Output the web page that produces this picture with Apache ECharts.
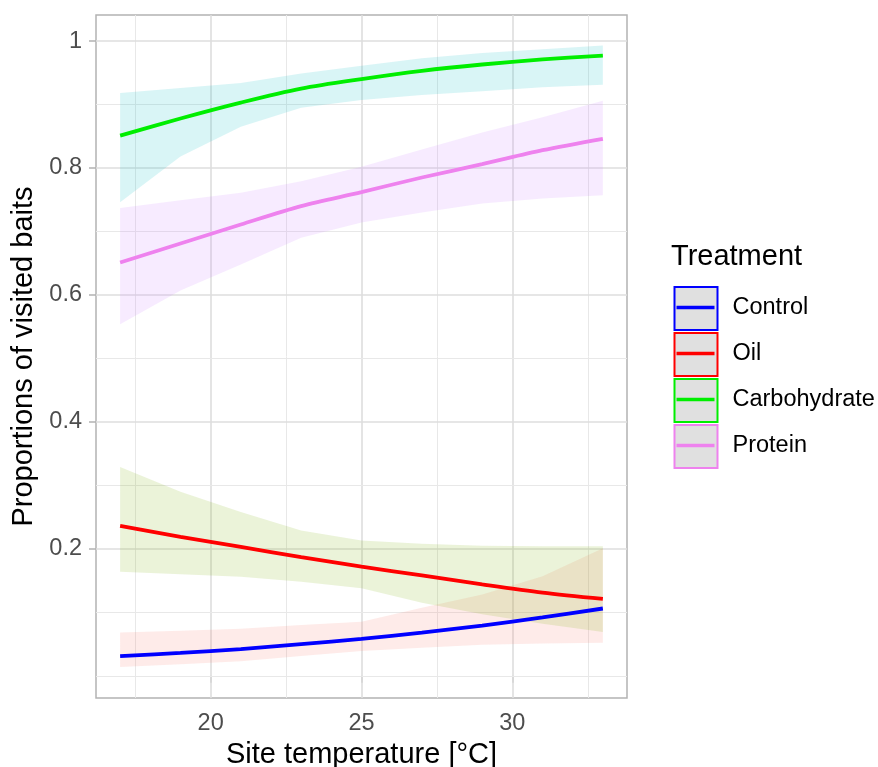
<!DOCTYPE html>
<html>
<head>
    <meta charset="utf-8">
    <style>
        html, body {
            height: 100%;
            margin: 0;
            padding: 0;
            background: #ffffff;
        }

        .container {
            width: 878px;
            height: 767px;
        }
    </style>
</head>
<body>
<div id="main" class="container"></div>

<script src="https://cdn.jsdelivr.net/npm/echarts@6/dist/echarts.min.js"></script>
<script type="text/javascript">
// site temperatures at which the fits were read
var temps = [17, 19, 21, 23, 25, 27, 29, 31, 33];

var treatments = ['Control', 'Oil', 'Carbohydrate', 'Protein'];

// fitted proportions
var controlFit = [0.031, 0.036, 0.042, 0.050, 0.058, 0.068, 0.079, 0.092, 0.106];
var oilFit     = [0.236, 0.219, 0.203, 0.187, 0.172, 0.158, 0.144, 0.131, 0.121];
var carbFit    = [0.851, 0.878, 0.903, 0.925, 0.940, 0.953, 0.963, 0.971, 0.977];
var proteinFit = [0.651, 0.681, 0.711, 0.740, 0.762, 0.785, 0.806, 0.828, 0.846];

// confidence ribbons
var controlLow  = [0.014, 0.018, 0.023, 0.031, 0.039, 0.044, 0.049, 0.051, 0.052];
var controlHigh = [0.068, 0.071, 0.074, 0.080, 0.085, 0.107, 0.128, 0.157, 0.201];
var oilLow      = [0.164, 0.160, 0.156, 0.148, 0.138, 0.115, 0.097, 0.082, 0.069];
var oilHigh     = [0.329, 0.290, 0.258, 0.229, 0.213, 0.208, 0.205, 0.204, 0.204];
var carbLow     = [0.746, 0.818, 0.865, 0.895, 0.907, 0.915, 0.921, 0.927, 0.931];
var carbHigh    = [0.918, 0.926, 0.934, 0.949, 0.961, 0.973, 0.981, 0.987, 0.993];
var proteinLow  = [0.554, 0.607, 0.648, 0.690, 0.714, 0.730, 0.744, 0.752, 0.757];
var proteinHigh = [0.737, 0.749, 0.761, 0.779, 0.802, 0.829, 0.856, 0.880, 0.906];

// axis breaks
var xMajor = [20, 25, 30];
var xMinor = [17.5, 22.5, 27.5, 32.5];
var yMajor = [0.2, 0.4, 0.6, 0.8, 1];
var yMinor = [0, 0.1, 0.3, 0.5, 0.7, 0.9];

var fits = [controlFit, oilFit, carbFit, proteinFit];
var lows = [controlLow, oilLow, carbLow, proteinLow];
var highs = [controlHigh, oilHigh, carbHigh, proteinHigh];

var lineColors = ['#0000ff', '#ff0000', '#00ee00', '#ee82ee'];
var ribbonColors = ['#F8766D', '#7CAE00', '#00BFC4', '#C77CFF'];

var fontName = 'Liberation Sans';

// horizontal bar centred in a 38x45 key, the corner specks only fix the box
var keyLine = 'path://M0,0h0.01v0.01h-0.01z M0,20.75h38v3.5h-38z M37.99,44.99h0.01v0.01h-0.01z';

function createChart() {
    var myChart = echarts.init(document.getElementById('main'));

    var gridLines = [];
    xMajor.forEach(function (v) {
        gridLines.push({xAxis: v, lineStyle: {color: '#dedede', width: 1.6, type: 'solid'}});
    });
    xMinor.forEach(function (v) {
        gridLines.push({xAxis: v, lineStyle: {color: '#e8e8e8', width: 1, type: 'solid'}});
    });
    yMajor.forEach(function (v) {
        gridLines.push({yAxis: v, lineStyle: {color: '#dedede', width: 1.6, type: 'solid'}});
    });
    yMinor.forEach(function (v) {
        gridLines.push({yAxis: v, lineStyle: {color: '#e8e8e8', width: 1, type: 'solid'}});
    });

    var series = [];
    treatments.forEach(function (name, k) {
        series.push({
            name: name + ' band',
            type: 'custom',
            silent: true,
            z: 2,
            data: temps.map(function (x, i) { return [x, lows[k][i], highs[k][i]]; }),
            encode: {x: 0, y: [1, 2]},
            renderItem: function (params, api) {
                if (params.dataIndex !== 0) {
                    return null;
                }
                var pts = [];
                for (var i = 0; i < temps.length; i++) {
                    pts.push(api.coord([temps[i], highs[k][i]]));
                }
                for (var j = temps.length - 1; j >= 0; j--) {
                    pts.push(api.coord([temps[j], lows[k][j]]));
                }
                return {
                    type: 'polygon',
                    shape: {points: pts},
                    style: {fill: ribbonColors[k], opacity: 0.15}
                };
            }
        });
    });
    treatments.forEach(function (name, k) {
        var s = {
            name: name,
            type: 'line',
            data: temps.map(function (x, i) { return [x, fits[k][i]]; }),
            symbol: 'none',
            smooth: 0.3,
            lineStyle: {color: lineColors[k], width: 3.8},
            itemStyle: {color: lineColors[k]},
            z: 3
        };
        if (k === 0) {
            s.markLine = {
                silent: true,
                symbol: 'none',
                label: {show: false},
                animation: false,
                z: 1,
                data: gridLines
            };
        }
        series.push(s);
    });

    // legend key boxes
    var keyBoxes = treatments.map(function (name, k) {
        return {
            type: 'rect',
            left: 673.5,
            top: 286 + 46 * k,
            shape: {width: 43, height: 43},
            style: {fill: '#e0e0e0', stroke: lineColors[k], lineWidth: 2},
            z: 1
        };
    });

    var option = {
        animation: false,
        textStyle: {fontFamily: fontName},
        title: {
            text: 'Treatment',
            left: 671,
            top: 242,
            padding: 0,
            textStyle: {fontFamily: fontName, fontSize: 29, fontWeight: 'normal', color: '#000000'}
        },
        legend: {
            data: treatments.map(function (name) { return {name: name, icon: keyLine}; }),
            orient: 'vertical',
            left: 676.5,
            top: 285,
            padding: 0,
            itemWidth: 38,
            itemHeight: 45,
            itemGap: 1,
            selectedMode: false,
            itemStyle: {borderWidth: 0},
            lineStyle: {width: 0},
            textStyle: {fontFamily: fontName, fontSize: 23.5, color: '#000000', padding: [0, 0, 0, 13]}
        },
        graphic: keyBoxes,
        grid: {
            left: 96,
            right: 251,
            top: 15,
            bottom: 69,
            outerBoundsMode: 'none',
            containLabel: false,
            show: true,
            borderColor: '#b3b3b3',
            borderWidth: 1.5,
            backgroundColor: 'transparent'
        },
        xAxis: {
            type: 'value',
            min: 16.2,
            max: 33.8,
            name: 'Site temperature [°C]',
            nameLocation: 'middle',
            nameGap: 39,
            nameTextStyle: {fontFamily: fontName, fontSize: 29, color: '#000000'},
            axisLine: {show: false},
            splitLine: {show: false},
            axisTick: {show: true, customValues: xMajor, length: 7, lineStyle: {color: '#b3b3b3', width: 1.5}},
            axisLabel: {customValues: xMajor, margin: 14, fontFamily: fontName, fontSize: 23.5, color: '#4d4d4d'}
        },
        yAxis: {
            type: 'value',
            min: -0.035,
            max: 1.041,
            name: 'Proportions of visited baits',
            nameLocation: 'middle',
            nameGap: 47,
            nameTextStyle: {fontFamily: fontName, fontSize: 29, color: '#000000'},
            axisLine: {show: false},
            splitLine: {show: false},
            axisTick: {show: true, customValues: yMajor, length: 7, lineStyle: {color: '#b3b3b3', width: 1.5}},
            axisLabel: {customValues: yMajor, margin: 14, fontFamily: fontName, fontSize: 23.5, color: '#4d4d4d'}
        },
        series: series
    };

    myChart.setOption(option);
}

createChart();
</script>
</body>
</html>
